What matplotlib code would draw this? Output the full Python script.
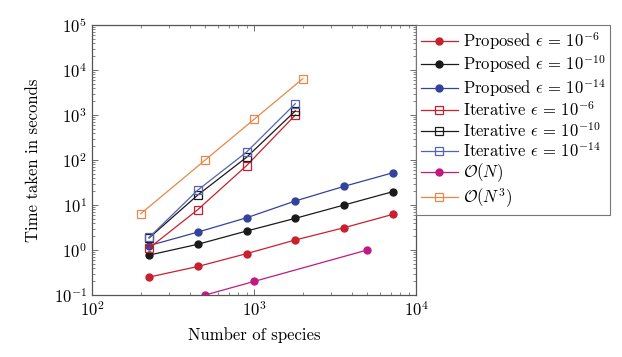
import matplotlib
matplotlib.use("Agg")
import matplotlib.pyplot as plt
from matplotlib.ticker import LogLocator, NullFormatter

plt.rcParams['font.family'] = ['cmr10', 'DejaVu Serif']
plt.rcParams['mathtext.fontset'] = 'cm'
plt.rcParams['axes.formatter.use_mathtext'] = True

# Data
N_prop = [225, 450, 900, 1800, 3600, 7200]
prop_1e6 = [0.25, 0.43, 0.83, 1.67, 3.13, 6.2]
prop_1e10 = [0.77, 1.34, 2.64, 5.06, 10.0, 19.8]
prop_1e14 = [1.25, 2.5, 5.2, 12.3, 26.0, 52.0]

N_iter = [225, 450, 900, 1800]
iter_1e6 = [1.1, 7.9, 75, 1000]
iter_1e10 = [1.85, 16.7, 115, 1230]
iter_1e14 = [1.9, 21.5, 150, 1790]

N_on = [500, 1000, 5000]
on_vals = [0.1, 0.2, 1.0]

N_on3 = [200, 500, 1000, 2000]
on3_vals = [6.4, 100, 800, 6400]

labels = [r'Proposed $\epsilon\,=\,10^{-6}$', r'Proposed $\epsilon\,=\,10^{-10}$',
          r'Proposed $\epsilon\,=\,10^{-14}$', r'Iterative $\epsilon\,=\,10^{-6}$',
          r'Iterative $\epsilon\,=\,10^{-10}$', r'Iterative $\epsilon\,=\,10^{-14}$',
          r'$\mathcal{O}(N)$', r'$\mathcal{O}(N^3)$']

red = '#c8202e'
black = '#1a1a1a'
blue = '#35429a'
magenta = '#c01a80'
orange = '#e8874a'

fig = plt.figure(figsize=(6.22, 3.57), dpi=100)
ax = fig.add_axes([92/622, 1-295/357, 324/622, 270/357])

lw = 0.9
ms_c = 5.0
ms_s = 5.5
ax.plot(N_prop, prop_1e6, '-o', color=red, ms=ms_c, lw=lw, label=labels[0])
ax.plot(N_prop, prop_1e10, '-o', color=black, ms=ms_c, lw=lw, label=labels[1])
ax.plot(N_prop, prop_1e14, '-o', color=blue, ms=ms_c, lw=lw, label=labels[2])
ax.plot(N_iter, iter_1e6, '-s', color=red, mfc='none', ms=ms_s, lw=lw, mew=0.9, label=labels[3])
ax.plot(N_iter, iter_1e10, '-s', color=black, mfc='none', ms=ms_s, lw=lw, mew=0.9, label=labels[4])
ax.plot(N_iter, iter_1e14, '-s', color='#5563b0', mfc='none', ms=ms_s, lw=lw, mew=0.9, label=labels[5])
ax.plot(N_on, on_vals, '-o', color=magenta, ms=ms_c, lw=lw, label=labels[6])
ax.plot(N_on3, on3_vals, '-s', color=orange, mfc='none', ms=ms_s, lw=lw, mew=0.9, label=labels[7])

ax.set_xscale('log')
ax.set_yscale('log')
ax.set_xlim(1e2, 1e4)
ax.set_ylim(1e-1, 1e5)
ax.yaxis.set_major_locator(LogLocator(base=10, numticks=10))
ax.yaxis.set_minor_locator(LogLocator(base=10, subs=range(2, 10), numticks=20))
ax.yaxis.set_minor_formatter(NullFormatter())
ax.xaxis.set_minor_formatter(NullFormatter())

ax.tick_params(which='both', direction='in', top=True, right=True, color='#555555', labelsize=12)
ax.tick_params(which='major', length=4.5, width=0.6)
ax.tick_params(which='minor', length=2.5, width=0.5)
for s in ax.spines.values():
    s.set_color('#555555')
    s.set_linewidth(0.9)

ax.set_xlabel('Number of species', fontsize=12, labelpad=6)
ax.set_ylabel('Time taken in seconds', fontsize=12, labelpad=9)

leg = ax.legend(loc='upper left', bbox_to_anchor=(1.0, 1.0), fontsize=12, frameon=True,
                fancybox=False, edgecolor='#777777', framealpha=1, handlelength=2.2,
                handletextpad=0.3, labelspacing=0.1, borderpad=0.3, borderaxespad=0)
leg.get_frame().set_linewidth(0.8)

fig.savefig('out.png', dpi=100)
